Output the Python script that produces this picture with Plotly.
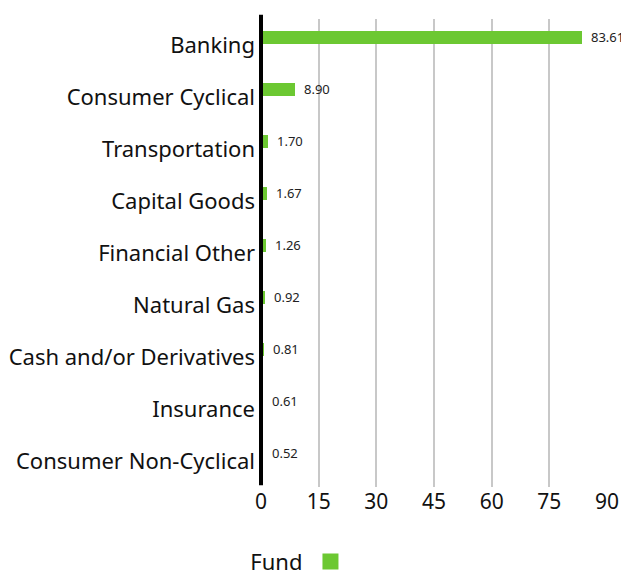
import plotly.graph_objects as go

categories = ["Banking", "Consumer Cyclical", "Transportation", "Capital Goods",
              "Financial Other", "Natural Gas", "Cash and/or Derivatives",
              "Insurance", "Consumer Non-Cyclical"]
fund_values = [83.61, 8.90, 1.70, 1.67, 1.26, 0.92, 0.81, 0.61, 0.52]
x_ticks = [0, 15, 30, 45, 60, 75, 90]

GREEN = "#6cc832"
FONT = "Noto Sans"

fig = go.Figure()
fig.add_trace(go.Bar(
    y=categories, x=fund_values, orientation="h",
    marker=dict(color=GREEN, line=dict(width=0)),
    width=0.25, offset=-0.26,
    name=" ", showlegend=False,
    hoverinfo="x+y",
))
# legend entry for the Fund series (square swatch)
fig.add_trace(go.Scatter(
    x=[None], y=[None], mode="markers", name=" ",
    marker=dict(symbol="square", size=20, color=GREEN),
    showlegend=True, hoverinfo="skip",
))

for c, v in zip(categories, fund_values):
    fig.add_annotation(x=v, y=c, text=f"{v:.2f}", showarrow=False,
                       xanchor="left", yanchor="middle", xshift=7, yshift=8,
                       font=dict(family=FONT, size=13, color="#222"))

fig.update_layout(
    width=621, height=568,
    margin=dict(l=253, r=22, t=11, b=89),
    plot_bgcolor="white", paper_bgcolor="white",
    font=dict(family=FONT, color="#111"),
    bargap=0,
    xaxis=dict(range=[0, 90], tickvals=x_ticks, ticktext=[str(t) for t in x_ticks],
               showgrid=True, gridcolor="#c8c8c8", gridwidth=2,
               zeroline=False, showline=False, ticks="", automargin=False,
               tickfont=dict(family=FONT, size=21, color="#111"), fixedrange=True),
    yaxis=dict(autorange="reversed", showgrid=False, zeroline=False,
               showline=False, ticks="", ticklabelstandoff=5, automargin=False,
               tickfont=dict(family=FONT, size=22, color="#111")),
    shapes=[dict(type="line", xref="paper", yref="paper", x0=0, x1=0,
                 y0=0.004, y1=1.009, line=dict(color="black", width=4))],
    showlegend=True,
    legend=dict(orientation="h", xref="container", yref="container",
                x=0.387, xanchor="left", y=0.025, yanchor="middle",
                title=dict(text="Fund", side="left", font=dict(family=FONT, size=22, color="#111")),
                font=dict(family=FONT, size=21), itemwidth=30),
)

fig.write_html("out.html")
